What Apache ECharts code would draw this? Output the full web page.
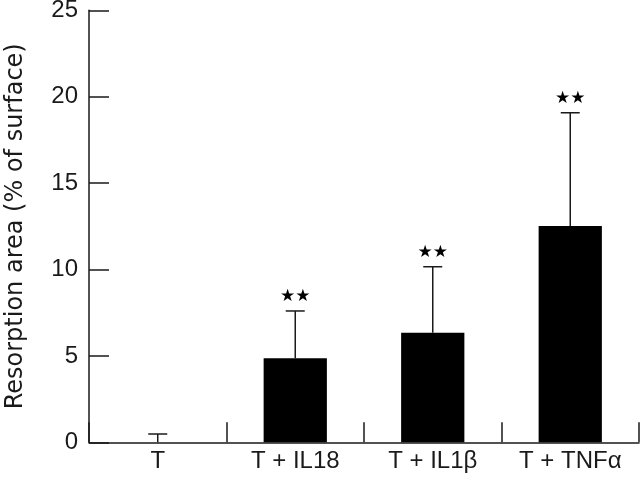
<!DOCTYPE html>
<html>
<head>
<meta charset="utf-8">
<script src="https://cdn.jsdelivr.net/npm/echarts@6/dist/echarts.min.js"></script>
<style>html,body{margin:0;padding:0;background:#fff}#c{width:640px;height:477px}</style>
</head>
<body>
<div id="c"></div>
<script>
const categories = ['T', 'T + IL18', 'T + IL1β', 'T + TNFα'];
const means = [0, 4.86, 6.34, 12.52];
const upperErrors = [0.48, 7.6, 10.16, 19.07];
const significance = ['', '★★', '★★', '★★'];
const yTicks = [0, 5, 10, 15, 20, 25];

const TICK_FONT = 'Liberation Sans';
const TITLE_FONT = 'DejaVu Sans';
const INK = '#1a1a1a';

const chart = echarts.init(document.getElementById('c'), null, {renderer: 'canvas'});
const errData = categories.map((c, i) => [i, means[i], upperErrors[i]]);

chart.setOption({
  animation: false,
  grid: {left: 89, right: 1, top: 10.3, bottom: 34.7, containLabel: false, outerBoundsMode: 'none'},
  xAxis: {
    type: 'category',
    data: categories,
    boundaryGap: true,
    axisLine: {lineStyle: {color: INK, width: 1.5}},
    axisTick: {show: true, inside: true, length: 20, alignWithLabel: false, lineStyle: {color: INK, width: 1.5}},
    axisLabel: {color: INK, fontFamily: TICK_FONT, fontSize: 24, margin: 7}
  },
  yAxis: {
    type: 'value',
    min: 0, max: 25, interval: 5,
    name: 'Resorption area (% of surface)',
    nameLocation: 'middle',
    nameGap: 61,
    nameTextStyle: {color: INK, fontFamily: TITLE_FONT, fontSize: 24},
    axisLine: {show: true, lineStyle: {color: INK, width: 1.5}},
    axisTick: {show: true, inside: true, length: 20, lineStyle: {color: INK, width: 1.5}},
    axisLabel: {color: INK, fontFamily: TICK_FONT, fontSize: 24, margin: 11,
      formatter: v => yTicks.includes(v) ? String(v) : ''},
    splitLine: {show: false}
  },
  series: [
    {
      type: 'bar',
      data: means,
      barWidth: '46%',
      itemStyle: {color: '#000'},
      z: 2
    },
    {
      type: 'custom',
      data: errData,
      z: 3,
      renderItem: function (params, api) {
        const i = api.value(0);
        const base = api.coord([i, api.value(1)]);
        const top = api.coord([i, api.value(2)]);
        const hw = 9.5;
        const children = [
          {type: 'line', shape: {x1: base[0], y1: base[1], x2: top[0], y2: top[1]}, style: {stroke: INK, lineWidth: 1.5}},
          {type: 'line', shape: {x1: top[0] - hw, y1: top[1], x2: top[0] + hw, y2: top[1]}, style: {stroke: INK, lineWidth: 1.5}}
        ];
        const sig = significance[params.dataIndex];
        if (sig) {
          children.push({type: 'text', style: {text: sig, x: top[0], y: top[1] - 14, align: 'center', verticalAlign: 'middle', fontFamily: 'DejaVu Sans', fontSize: 17, fill: '#000'}});
        }
        return {type: 'group', children: children};
      }
    }
  ]
});
</script>
</body>
</html>
